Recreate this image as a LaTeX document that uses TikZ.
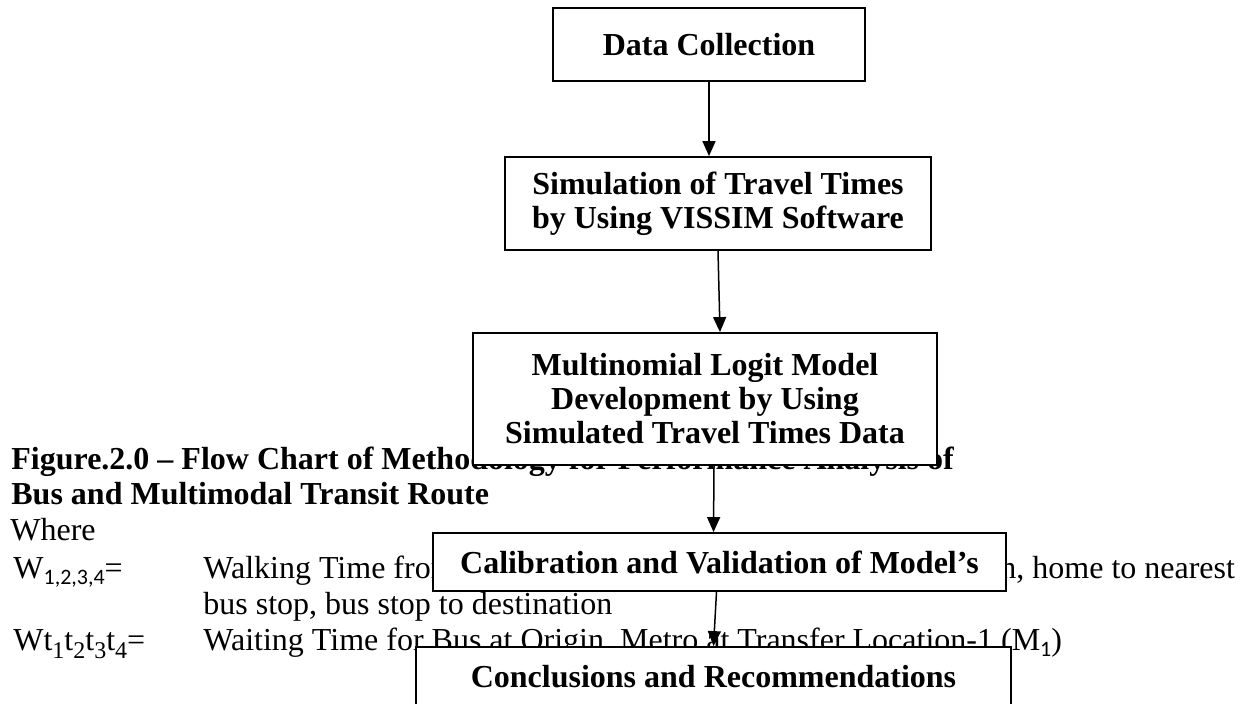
\documentclass[tikz,border=0pt]{standalone}
\usepackage{fontspec}
\setmainfont{Liberation Serif}
\newfontfamily\subsans{Carlito}
\usetikzlibrary{arrows.meta}

\begin{document}
\begin{tikzpicture}[>={Triangle[length=7.5pt,width=6.5pt]},x=0.5pt,y=-0.5pt,
		box/.style={draw,line width=0.9pt,fill=white,align=center,inner sep=0pt,
			font=\fontsize{16}{17}\selectfont\bfseries},
		body/.style={anchor=base west,inner sep=0pt,font=\fontsize{16}{18}\selectfont},
		flow/.style={->,line width=0.75pt}]
	\def\sbs#1{\raisebox{-0.2em}{\subsans\fontsize{11}{11}\selectfont #1}}
	\def\sbm#1{\raisebox{-0.25em}{\fontsize{12}{12}\selectfont #1}}
	\useasboundingbox (0,0) rectangle (1251,704);
	% caption and legend (partly hidden by the boxes)
	\node[body,font=\fontsize{16}{18}\selectfont\bfseries] (cap1) at (11,470) {Figure.2.0 – Flow Chart of Methodology for Performance Analysis of};
	\node[body,font=\fontsize{16}{18}\selectfont\bfseries] (cap2) at (11,505) {Bus and Multimodal Transit Route};
	\node[body] (where) at (10,541) {Where};
	\node[body] (wsym) at (13,578) {W\sbs{1,2,3,4}=};
	\node[body] (wtxt) at (203,578) {Walking Time from};
	\node[body] (wtxtb) at (1000,578) {n, home to nearest};
	\node[body] (wtxtc) at (203,614) {bus stop, bus stop to destination};
	\node[body] (wtsym) at (13,650) {Wt\sbm{1}t\sbm{2}t\sbm{3}t\sbm{4}=};
	\node[body] (wttxt) at (203,650) {Waiting Time for Bus at Origin, Metro at Transfer Location-1 (M\sbs{1})};
	% flow chart
	\node[box,minimum width=156pt,minimum height=36.5pt] (data) at (709,44.5) {Data Collection};
	\node[box,minimum width=213pt,minimum height=46.5pt] (sim) at (718,203.5) {Simulation of Travel Times\\by Using VISSIM Software};
	\node[box,minimum width=232pt,minimum height=66pt] (mlm) at (705,399) {Multinomial Logit Model\\Development by Using\\Simulated Travel Times Data};
	\node[box,minimum width=286.5pt,minimum height=29pt] (cal) at (719.5,562) {Calibration and Validation of Model’s};
	\node[box,minimum width=297.5pt,minimum height=30pt] (con) at (713.5,677) {Conclusions and Recommendations};
	\draw[flow] (data) -- (data.south |- sim.north);
	\draw[flow] (sim.south) -- ([xshift=7.5pt]mlm.north);
	\draw[flow] ([xshift=4.5pt]mlm.south) -- ([xshift=-3pt]cal.north);
	\draw[flow] ([xshift=-1.5pt]cal.south) -- (con.north);
\end{tikzpicture}
\end{document}
